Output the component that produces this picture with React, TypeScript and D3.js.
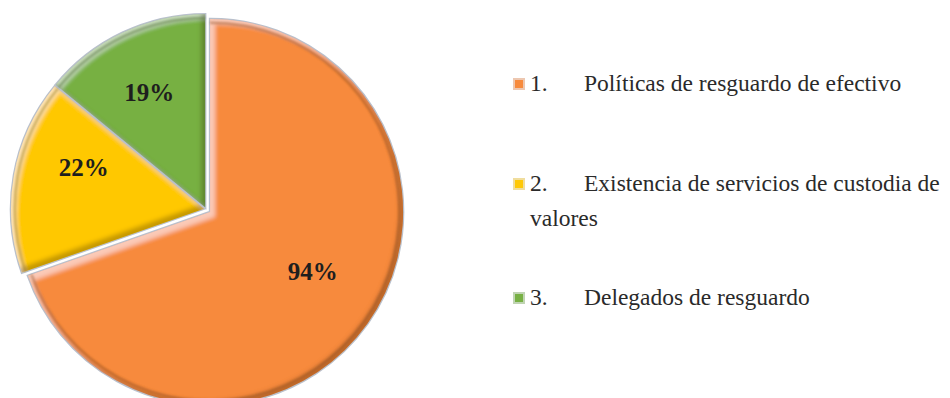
import React from "react";
import * as d3 from "d3";

const values = [94, 22, 19];
const numbers = ["1.", "2.", "3."];
const legendLines = [
  ["Políticas de resguardo de efectivo"],
  ["Existencia de servicios de custodia de", "valores"],
  ["Delegados de resguardo"],
];
const colors = ["#F78A3C", "#FFC806", "#77B043"];
const explode = [5, 2, 2];
// label placement within each slice: fraction of the angular span and radius
const labelFrac = [0.48, 0.65, 0.49];
const labelRad = [119, 127, 128];

const W = 950;
const H = 398;
const cx = 206;
const cy = 209;
const R = 193;

const legendX = 513;
const legendNumX = 530;
const legendTextX = 584;
const legendBaselines = [91, 191, 305];
const lineGap = 35;
const fontSize = 23.5;

export default function App() {
  const pie = d3.pie<number>().sort(null).value((d) => d).startAngle(0).endAngle(2 * Math.PI);
  const arcs = pie(values);
  const arc = d3.arc<d3.PieArcDatum<number>>().innerRadius(0).outerRadius(R);
  const rimArc = d3.arc<d3.PieArcDatum<number>>().innerRadius(R - 5).outerRadius(R - 2.5);

  return (
    <svg
      width={W}
      height={H}
      style={{ position: "absolute", left: 0, top: 0, background: "#fff" }}
      fontFamily="'Liberation Serif', 'Times New Roman', serif"
    >
      <defs>
        <filter id="bevel" x="-5%" y="-5%" width="110%" height="110%">
          <feGaussianBlur in="SourceAlpha" stdDeviation="2" result="b" />
          <feOffset in="b" dx="5" dy="5" result="o1" />
          <feComposite in="SourceAlpha" in2="o1" operator="out" result="hl" />
          <feFlood floodColor="#ffffff" floodOpacity="0.45" />
          <feComposite in2="hl" operator="in" result="hlc" />
          <feOffset in="b" dx="-4" dy="-4" result="o2" />
          <feComposite in="SourceAlpha" in2="o2" operator="out" result="sh" />
          <feFlood floodColor="#3a1a00" floodOpacity="0.45" />
          <feComposite in2="sh" operator="in" result="shc" />
          <feMerge>
            <feMergeNode in="SourceGraphic" />
            <feMergeNode in="hlc" />
            <feMergeNode in="shc" />
          </feMerge>
        </filter>
        <filter id="soft">
          <feGaussianBlur stdDeviation="0.8" />
        </filter>
      </defs>
      <g transform={`translate(${cx},${cy})`}>
        {arcs.map((a, i) => {
          const mid = (a.startAngle + a.endAngle) / 2;
          const dx = Math.sin(mid) * explode[i];
          const dy = -Math.cos(mid) * explode[i];
          return (
            <g key={i} transform={`translate(${dx},${dy})`}>
              <path d={arc(a) || ""} fill="none" stroke="#b9c0cc" strokeWidth={2.5} />
              <path d={arc(a) || ""} fill={colors[i]} filter="url(#bevel)" />
              <path
                d={rimArc(a) || ""}
                fill={d3.color(colors[i])!.darker(1.6).formatHex()}
                opacity={0.45}
                filter="url(#soft)"
              />
            </g>
          );
        })}
        {arcs.map((a, i) => {
          const mid = (a.startAngle + a.endAngle) / 2;
          const dx = Math.sin(mid) * explode[i];
          const dy = -Math.cos(mid) * explode[i];
          const ang = a.startAngle + (a.endAngle - a.startAngle) * labelFrac[i];
          const lx = Math.sin(ang) * labelRad[i];
          const ly = -Math.cos(ang) * labelRad[i];
          return (
            <text
              key={i}
              x={lx + dx}
              y={ly + dy}
              textAnchor="middle"
              dominantBaseline="central"
              fontWeight="bold"
              fontSize={25}
              fill="#1e1e1e"
            >
              {`${values[i]}%`}
            </text>
          );
        })}
      </g>
      <g>
        {legendLines.map((lines, i) => {
          const by = legendBaselines[i];
          return (
            <g key={i}>
              <rect
                x={legendX + 1}
                y={by - 12}
                width={10}
                height={10}
                fill={colors[i]}
                stroke={d3.interpolateRgb(colors[i], "#e8e8ef")(0.65)}
                strokeWidth={2}
              />
              <text x={legendNumX} y={by} fontSize={fontSize} fill="#2a2a2a">
                {numbers[i]}
              </text>
              <text x={legendTextX} y={by} fontSize={fontSize} fill="#2a2a2a">
                {lines[0]}
              </text>
              {lines.slice(1).map((l, j) => (
                <text key={j} x={legendNumX} y={by + lineGap * (j + 1)} fontSize={fontSize} fill="#2a2a2a">
                  {l}
                </text>
              ))}
            </g>
          );
        })}
      </g>
    </svg>
  );
}
